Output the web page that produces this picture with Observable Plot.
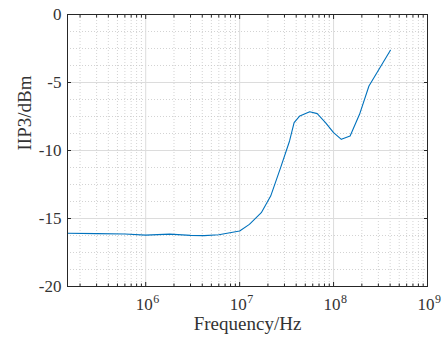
<!DOCTYPE html>
<html>
<head>
<meta charset="utf-8">
<script src="https://cdn.jsdelivr.net/npm/d3@7"></script>
<script src="https://cdn.jsdelivr.net/npm/@observablehq/plot@0.6"></script>
<style>
  html, body { margin: 0; padding: 0; background: #fff; }
  #chart { width: 443px; height: 338px; }
</style>
</head>
<body>
<div id="chart"></div>
<script>
// Frequency (Hz) and IIP3 (dBm)
const freq = [1.47e5, 3e5, 6e5, 1.0e6, 1.8e6, 3e6, 4.2e6, 6e6, 1.0e7, 1.27e7, 1.7e7, 2.14e7, 2.73e7, 3.4e7, 3.8e7, 4.37e7, 5.57e7, 6.7e7, 8.2e7, 1.0e8, 1.21e8, 1.5e8, 1.89e8, 2.38e8, 4.03e8];
const iip3 = [-16.09, -16.11, -16.14, -16.22, -16.15, -16.24, -16.26, -16.2, -15.92, -15.43, -14.57, -13.35, -11.26, -9.3, -7.95, -7.46, -7.15, -7.29, -7.95, -8.69, -9.18, -8.93, -7.34, -5.26, -2.63];

const xDomain = [1.47e5, 1e9];
const yDomain = [-20, 0];
const xMajorTicks = [1e6, 1e7, 1e8, 1e9];
const xTickExponents = ["6", "7", "8", "9"];
const yMajorTicks = [-20, -15, -10, -5, 0];
const yTickLabels = ["-20", "-15", "-10", "-5", "0"];
const yMinorTicks = [-18.75, -17.5, -16.25, -13.75, -12.5, -11.25, -8.75, -7.5, -6.25, -3.75, -2.5, -1.25];
const xMinorTicks = [2e5, 3e5, 4e5, 5e5, 6e5, 7e5, 8e5, 9e5,
  2e6, 3e6, 4e6, 5e6, 6e6, 7e6, 8e6, 9e6,
  2e7, 3e7, 4e7, 5e7, 6e7, 7e7, 8e7, 9e7,
  2e8, 3e8, 4e8, 5e8, 6e8, 7e8, 8e8, 9e8];
const xLabel = "Frequency/Hz";
const yLabel = "IIP3/dBm";

const data = freq.map((f, i) => ({f, v: iip3[i]}));
const xTicks = xMajorTicks.map((t, i) => ({t, e: xTickExponents[i]}));
const yTicks = yMajorTicks.map((t, i) => ({t, s: yTickLabels[i]}));
const font = "'Liberation Serif', 'DejaVu Serif', serif";
const axisColor = "#262626";
const textColor = "#333333";

const chart = Plot.plot({
  width: 443,
  height: 338,
  marginLeft: 67,
  marginRight: 16,
  marginTop: 14,
  marginBottom: 52,
  style: {fontFamily: font, fontSize: "17px", color: textColor, background: "#fff"},
  x: {type: "log", domain: xDomain, axis: null},
  y: {domain: yDomain, axis: null},
  marks: [
    // minor grid
    Plot.ruleX(xMinorTicks, {stroke: "#c8c8c8", strokeDasharray: "1,2", strokeWidth: 0.8}),
    Plot.ruleY(yMinorTicks, {stroke: "#c8c8c8", strokeDasharray: "1,2", strokeWidth: 0.8}),
    // major grid
    Plot.ruleX(xMajorTicks, {stroke: "#dcdcdc", strokeWidth: 1}),
    Plot.ruleY(yMajorTicks, {stroke: "#dcdcdc", strokeWidth: 1}),
    // data line
    Plot.line(data, {x: "f", y: "v", stroke: "#0072BD", strokeWidth: 1.1}),
    // inward ticks
    Plot.axisX(xMajorTicks, {anchor: "bottom", tickSize: 4, dy: -4, text: null, label: null, stroke: axisColor}),
    Plot.axisX(xMajorTicks, {anchor: "top", tickSize: 4, dy: 4, text: null, label: null, stroke: axisColor}),
    Plot.axisX(xMinorTicks, {anchor: "bottom", tickSize: 2.5, dy: -2.5, text: null, label: null, stroke: axisColor}),
    Plot.axisX(xMinorTicks, {anchor: "top", tickSize: 2.5, dy: 2.5, text: null, label: null, stroke: axisColor}),
    Plot.axisY(yMajorTicks, {anchor: "left", tickSize: 4, dx: 4, text: null, label: null, stroke: axisColor}),
    Plot.axisY(yMajorTicks, {anchor: "right", tickSize: 4, dx: -4, text: null, label: null, stroke: axisColor}),
    // x tick labels: "10" with superscript exponent
    Plot.text(xTicks, {x: "t", text: () => "10", frameAnchor: "bottom", textAnchor: "end", lineAnchor: "top",
      dx: 7, dy: 11, fontSize: 17, fill: textColor}),
    Plot.text(xTicks, {x: "t", text: "e", frameAnchor: "bottom", textAnchor: "start", lineAnchor: "top",
      dx: 7.5, dy: 7.5, fontSize: 12, fill: textColor}),
    // y tick labels
    Plot.text(yTicks, {y: "t", text: "s", frameAnchor: "left", textAnchor: "end", dx: -6, fontSize: 17, fill: textColor}),
    // frame
    Plot.frame({stroke: axisColor, strokeWidth: 1}),
    // axis titles
    Plot.text([yLabel], {frameAnchor: "left", rotate: -90, dx: -43, fontSize: 19, fill: textColor}),
    Plot.text([xLabel], {frameAnchor: "bottom", dy: 43, fontSize: 19, fill: textColor})
  ]
});

document.getElementById("chart").appendChild(chart);
</script>
</body>
</html>
